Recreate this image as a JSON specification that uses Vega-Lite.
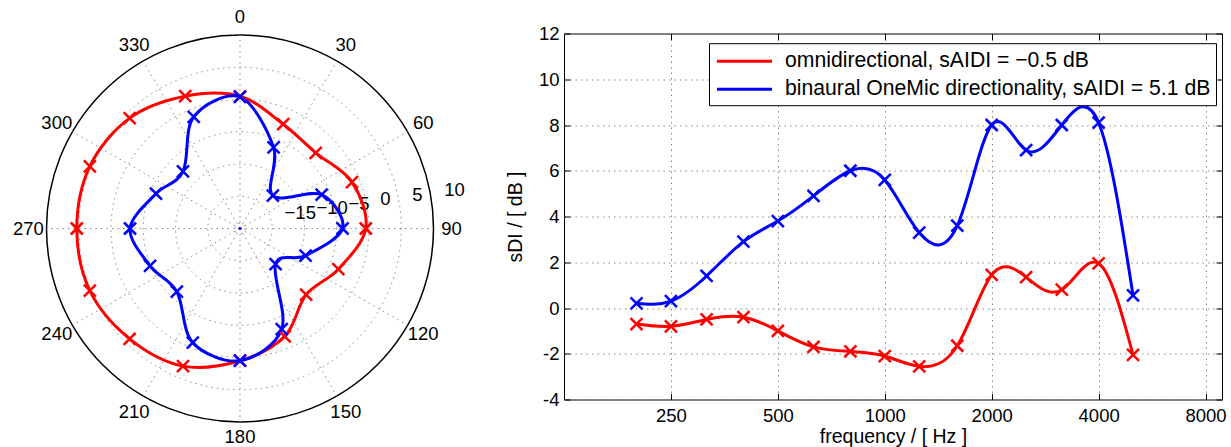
{
  "$schema": "https://vega.github.io/schema/vega-lite/v6.json",
  "background": "white",
  "padding": {"left": 0, "top": 7.5, "right": 0, "bottom": 0},
  "bounds": "flush",
  "spacing": 84,
  "config": {
    "font": "Liberation Sans",
    "view": {"stroke": null},
    "axis": {"labelFont": "Liberation Sans", "titleFont": "Liberation Sans", "labelColor": "#000", "titleColor": "#000", "titleFontWeight": "normal", "labelFontSize": 18.5, "titleFontSize": 19.5, "labelFlush": false, "labelOverlap": false, "gridColor": "#888", "gridDash": [1.5, 4], "gridWidth": 1, "tickColor": "#000", "domain": false},
    "legend": {"labelFont": "Liberation Sans", "labelFontSize": 21.2, "labelColor": "#000"},
    "text": {"font": "Liberation Sans", "fontSize": 18.5, "color": "#000"}
  },
  "resolve": {"scale": {"color": "independent"}},
  "datasets": {
    "polar": [
      {"s": "omni", "angle": 0, "level": 0.5},
      {"s": "omni", "angle": 22.5, "level": -2.5},
      {"s": "omni", "angle": 45, "level": -3.4},
      {"s": "omni", "angle": 67.5, "level": -1.2},
      {"s": "omni", "angle": 90, "level": -0.5},
      {"s": "omni", "angle": 112.5, "level": -3.5},
      {"s": "omni", "angle": 135, "level": -5.5},
      {"s": "omni", "angle": 157.5, "level": -1.9},
      {"s": "omni", "angle": 180, "level": 0.5},
      {"s": "omni", "angle": 202.5, "level": 3.1},
      {"s": "omni", "angle": 225, "level": 4.2},
      {"s": "omni", "angle": 247.5, "level": 5.2},
      {"s": "omni", "angle": 270, "level": 5.3},
      {"s": "omni", "angle": 292.5, "level": 5.2},
      {"s": "omni", "angle": 315, "level": 4.2},
      {"s": "omni", "angle": 337.5, "level": 2.2},
      {"s": "binaural", "angle": 0, "level": 0.4},
      {"s": "binaural", "angle": 22.5, "level": -6.4},
      {"s": "binaural", "angle": 45, "level": -12.8},
      {"s": "binaural", "angle": 67.5, "level": -6.3},
      {"s": "binaural", "angle": 90, "level": -4.1},
      {"s": "binaural", "angle": 112.5, "level": -9.0},
      {"s": "binaural", "angle": 135, "level": -12.2},
      {"s": "binaural", "angle": 157.5, "level": -3.1},
      {"s": "binaural", "angle": 180, "level": 0.5},
      {"s": "binaural", "angle": 202.5, "level": -0.85},
      {"s": "binaural", "angle": 225, "level": -6.15},
      {"s": "binaural", "angle": 247.5, "level": -4.9},
      {"s": "binaural", "angle": 270, "level": -2.95},
      {"s": "binaural", "angle": 292.5, "level": -5.9},
      {"s": "binaural", "angle": 315, "level": -7.5},
      {"s": "binaural", "angle": 337.5, "level": -1.25}
    ],
    "sdi": [
      {"series": "omni", "freq": 200, "sdi": -0.7},
      {"series": "omni", "freq": 250, "sdi": -0.8},
      {"series": "omni", "freq": 315, "sdi": -0.5},
      {"series": "omni", "freq": 400, "sdi": -0.4},
      {"series": "omni", "freq": 500, "sdi": -1.0},
      {"series": "omni", "freq": 630, "sdi": -1.7},
      {"series": "omni", "freq": 800, "sdi": -1.9},
      {"series": "omni", "freq": 1000, "sdi": -2.1},
      {"series": "omni", "freq": 1250, "sdi": -2.55},
      {"series": "omni", "freq": 1600, "sdi": -1.65},
      {"series": "omni", "freq": 2000, "sdi": 1.45},
      {"series": "omni", "freq": 2500, "sdi": 1.35},
      {"series": "omni", "freq": 3150, "sdi": 0.8},
      {"series": "omni", "freq": 4000, "sdi": 1.95},
      {"series": "omni", "freq": 5000, "sdi": -2.05},
      {"series": "binaural", "freq": 200, "sdi": 0.2},
      {"series": "binaural", "freq": 250, "sdi": 0.3},
      {"series": "binaural", "freq": 315, "sdi": 1.4},
      {"series": "binaural", "freq": 400, "sdi": 2.9},
      {"series": "binaural", "freq": 500, "sdi": 3.8},
      {"series": "binaural", "freq": 630, "sdi": 4.9},
      {"series": "binaural", "freq": 800, "sdi": 6.0},
      {"series": "binaural", "freq": 1000, "sdi": 5.6},
      {"series": "binaural", "freq": 1250, "sdi": 3.3},
      {"series": "binaural", "freq": 1600, "sdi": 3.6},
      {"series": "binaural", "freq": 2000, "sdi": 8.0},
      {"series": "binaural", "freq": 2500, "sdi": 6.9},
      {"series": "binaural", "freq": 3150, "sdi": 8.0},
      {"series": "binaural", "freq": 4000, "sdi": 8.1},
      {"series": "binaural", "freq": 5000, "sdi": 0.55}
    ],
    "angles": [{"a": 0}, {"a": 30}, {"a": 60}, {"a": 90}, {"a": 120}, {"a": 150}, {"a": 180}, {"a": 210}, {"a": 240}, {"a": 270}, {"a": 300}, {"a": 330}]
  },
  "hconcat": [
    {
      "width": 480,
      "height": 390,
      "view": {"stroke": null},
      "layer": [
        {
          "data": {"values": [{"ring": -19.2}, {"ring": -15}, {"ring": -10}, {"ring": -5}, {"ring": 0}, {"ring": 5}]},
          "transform": [{"calculate": "datum.ring + 20", "as": "rr"}],
          "mark": {"type": "point", "shape": "circle", "filled": false, "stroke": "#888", "strokeWidth": 1, "strokeDash": [1.5, 4], "opacity": 1},
          "encoding": {
            "x": {"datum": 0, "type": "quantitative", "scale": {"domain": [-37.2093, 37.2093], "nice": false, "zero": false}, "axis": null},
            "y": {"datum": 0, "type": "quantitative", "scale": {"domain": [-30.2326, 30.2326], "nice": false, "zero": false}, "axis": null},
            "size": {"field": "rr", "type": "quantitative", "scale": {"type": "pow", "exponent": 2, "domain": [0, 30], "range": [0, 149769], "zero": true, "nice": false}, "legend": null}
          }
        },
        {
          "data": {"values": [{"ring": 10}]},
          "transform": [{"calculate": "datum.ring + 20", "as": "rr"}],
          "mark": {"type": "point", "shape": "circle", "filled": false, "stroke": "#000", "strokeWidth": 1.5, "opacity": 1},
          "encoding": {
            "x": {"datum": 0, "type": "quantitative", "scale": {"domain": [-37.2093, 37.2093], "nice": false, "zero": false}, "axis": null},
            "y": {"datum": 0, "type": "quantitative", "scale": {"domain": [-30.2326, 30.2326], "nice": false, "zero": false}, "axis": null},
            "size": {"field": "rr", "type": "quantitative", "scale": {"type": "pow", "exponent": 2, "domain": [0, 30], "range": [0, 149769], "zero": true, "nice": false}, "legend": null}
          }
        },
        {
          "data": {"name": "angles"},
          "transform": [
            {"calculate": "30 * sin(datum.a * PI / 180)", "as": "sx"},
            {"calculate": "30 * cos(datum.a * PI / 180)", "as": "sy"},
            {"calculate": "0", "as": "o"}
          ],
          "mark": {"type": "rule", "stroke": "#888", "strokeWidth": 1, "strokeDash": [1.5, 4]},
          "encoding": {
            "x": {"field": "o", "type": "quantitative", "scale": {"domain": [-37.2093, 37.2093], "nice": false, "zero": false}, "axis": null},
            "y": {"field": "o", "type": "quantitative", "scale": {"domain": [-30.2326, 30.2326], "nice": false, "zero": false}, "axis": null},
            "x2": {"field": "sx"},
            "y2": {"field": "sy"}
          }
        },
        {
          "data": {"name": "angles"},
          "transform": [
            {"filter": "datum.a != 180"},
            {"calculate": "32.8 * sin(datum.a * PI / 180)", "as": "tx"},
            {"calculate": "32.8 * cos(datum.a * PI / 180)", "as": "ty"}
          ],
          "mark": {"type": "text", "align": "center", "baseline": "middle", "fontSize": 18.5},
          "encoding": {
            "x": {"field": "tx", "type": "quantitative", "scale": {"domain": [-37.2093, 37.2093], "nice": false, "zero": false}, "axis": null},
            "y": {"field": "ty", "type": "quantitative", "scale": {"domain": [-30.2326, 30.2326], "nice": false, "zero": false}, "axis": null},
            "text": {"field": "a", "type": "quantitative", "format": "d"}
          }
        },
        {
          "data": {"name": "angles"},
          "transform": [
            {"filter": "datum.a == 180"},
            {"calculate": "32.4 * sin(datum.a * PI / 180)", "as": "tx"},
            {"calculate": "32.4 * cos(datum.a * PI / 180)", "as": "ty"}
          ],
          "mark": {"type": "text", "align": "center", "baseline": "middle", "fontSize": 18.5},
          "encoding": {
            "x": {"field": "tx", "type": "quantitative", "scale": {"domain": [-37.2093, 37.2093], "nice": false, "zero": false}, "axis": null},
            "y": {"field": "ty", "type": "quantitative", "scale": {"domain": [-30.2326, 30.2326], "nice": false, "zero": false}, "axis": null},
            "text": {"field": "a", "type": "quantitative", "format": "d"}
          }
        },
        {
          "data": {"values": [{"lv": -15}, {"lv": -10}, {"lv": -5}, {"lv": 0}, {"lv": 5}, {"lv": 10}]},
          "transform": [
            {"calculate": "(datum.lv + 20.25) * sin(82 * PI / 180)", "as": "rx"},
            {"calculate": "(datum.lv + 20.25) * cos(82 * PI / 180)", "as": "ry"}
          ],
          "mark": {"type": "text", "align": "left", "baseline": "middle", "dx": 11, "dy": -11, "fontSize": 18.5},
          "encoding": {
            "x": {"field": "rx", "type": "quantitative", "scale": {"domain": [-37.2093, 37.2093], "nice": false, "zero": false}, "axis": null},
            "y": {"field": "ry", "type": "quantitative", "scale": {"domain": [-30.2326, 30.2326], "nice": false, "zero": false}, "axis": null},
            "text": {"field": "lv", "type": "quantitative", "format": "d"}
          }
        },
        {
          "data": {"name": "polar"},
          "transform": [
            {"filter": "datum.s == 'omni'"},
            {"calculate": "(datum.level + 20) * sin(datum.angle * PI / 180)", "as": "px"},
            {"calculate": "(datum.level + 20) * cos(datum.angle * PI / 180)", "as": "py"}
          ],
          "mark": {"type": "line", "interpolate": "cardinal-closed", "tension": 0, "stroke": "#ff0000", "strokeWidth": 3},
          "encoding": {
            "x": {"field": "px", "type": "quantitative", "scale": {"domain": [-37.2093, 37.2093], "nice": false, "zero": false}, "axis": null},
            "y": {"field": "py", "type": "quantitative", "scale": {"domain": [-30.2326, 30.2326], "nice": false, "zero": false}, "axis": null},
            "order": {"field": "angle", "type": "quantitative"}
          }
        },
        {
          "data": {"name": "polar"},
          "transform": [
            {"filter": "datum.s == 'binaural'"},
            {"calculate": "(datum.level + 20) * sin(datum.angle * PI / 180)", "as": "px"},
            {"calculate": "(datum.level + 20) * cos(datum.angle * PI / 180)", "as": "py"}
          ],
          "mark": {"type": "line", "interpolate": "cardinal-closed", "tension": 0, "stroke": "#0000ff", "strokeWidth": 3},
          "encoding": {
            "x": {"field": "px", "type": "quantitative", "scale": {"domain": [-37.2093, 37.2093], "nice": false, "zero": false}, "axis": null},
            "y": {"field": "py", "type": "quantitative", "scale": {"domain": [-30.2326, 30.2326], "nice": false, "zero": false}, "axis": null},
            "order": {"field": "angle", "type": "quantitative"}
          }
        },
        {
          "data": {"name": "polar"},
          "transform": [
            {"calculate": "(datum.level + 20) * sin(datum.angle * PI / 180)", "as": "px"},
            {"calculate": "(datum.level + 20) * cos(datum.angle * PI / 180)", "as": "py"}
          ],
          "mark": {"type": "point", "shape": "M-1,-1L1,1M-1,1L1,-1", "filled": false, "size": 144, "strokeWidth": 2.5, "opacity": 1},
          "encoding": {
            "x": {"field": "px", "type": "quantitative", "scale": {"domain": [-37.2093, 37.2093], "nice": false, "zero": false}, "axis": null},
            "y": {"field": "py", "type": "quantitative", "scale": {"domain": [-30.2326, 30.2326], "nice": false, "zero": false}, "axis": null},
            "color": {"field": "s", "type": "nominal", "scale": {"domain": ["omni", "binaural"], "range": ["#ff0000", "#0000ff"]}, "legend": null}
          }
        },
        {
          "data": {"values": [{"c": 0}]},
          "mark": {"type": "point", "shape": "circle", "filled": true, "size": 10, "color": "#0000ff", "opacity": 1},
          "encoding": {
            "x": {"field": "c", "type": "quantitative", "scale": {"domain": [-37.2093, 37.2093], "nice": false, "zero": false}, "axis": null},
            "y": {"field": "c", "type": "quantitative", "scale": {"domain": [-30.2326, 30.2326], "nice": false, "zero": false}, "axis": null}
          }
        }
      ]
    },
    {
      "width": 658,
      "height": 366,
      "view": {"stroke": "#000", "strokeWidth": 1},
      "data": {"name": "sdi"},
      "resolve": {"axis": {"x": "independent", "y": "independent"}},
      "layer": [
        {
          "mark": {"type": "line", "interpolate": "natural", "strokeWidth": 3},
          "encoding": {
            "x": {"field": "freq", "type": "quantitative", "scale": {"type": "log", "domain": [125, 8900], "nice": false},
              "axis": {"orient": "bottom", "values": [250, 500, 1000, 2000, 4000, 8000], "format": "d", "grid": true, "ticks": true, "tickSize": -6, "labelPadding": 12.5, "title": "frequency / [ Hz ]", "titlePadding": 3}},
            "y": {"field": "sdi", "type": "quantitative", "scale": {"domain": [-4, 12], "nice": false, "zero": false},
              "axis": {"orient": "left", "values": [-4, -2, 0, 2, 4, 6, 8, 10, 12], "format": "d", "labelExpr": "replace(datum.label, '−', '-')", "grid": true, "ticks": true, "tickSize": -6, "labelPadding": 11, "title": "sDI / [ dB ]", "titlePadding": 13}},
            "color": {"field": "series", "type": "nominal", "scale": {"domain": ["omni", "binaural"], "range": ["#ff0000", "#0000ff"]},
              "legend": {"title": null, "orient": "none", "legendX": 145, "legendY": 9.7, "direction": "vertical", "strokeColor": "#000", "fillColor": "#fff", "padding": 5.5, "cornerRadius": 0, "symbolType": "M-2.5,0H2.5", "symbolSize": 484, "symbolStrokeWidth": 3, "symbolOffset": 17.5, "labelOffset": 28, "rowPadding": 5, "labelLimit": 0, "labelFontSize": 21.2,
                "labelExpr": "datum.value == 'omni' ? 'omnidirectional, sAIDI = −0.5 dB' : 'binaural OneMic directionality, sAIDI = 5.1 dB'"}}
          }
        },
        {
          "mark": {"type": "point", "shape": "M-1,-1L1,1M-1,1L1,-1", "filled": false, "size": 144, "strokeWidth": 2.5, "opacity": 1},
          "encoding": {
            "x": {"field": "freq", "type": "quantitative", "scale": {"type": "log", "domain": [125, 8900], "nice": false},
              "axis": {"orient": "top", "values": [250, 500, 1000, 2000, 4000, 8000], "labels": false, "title": null, "grid": false, "ticks": true, "tickSize": -6}},
            "y": {"field": "sdi", "type": "quantitative", "scale": {"domain": [-4, 12], "nice": false, "zero": false},
              "axis": {"orient": "right", "values": [-4, -2, 0, 2, 4, 6, 8, 10, 12], "labels": false, "title": null, "grid": false, "ticks": true, "tickSize": -6}},
            "color": {"field": "series", "type": "nominal", "scale": {"domain": ["omni", "binaural"], "range": ["#ff0000", "#0000ff"]}}
          }
        }
      ]
    }
  ]
}
